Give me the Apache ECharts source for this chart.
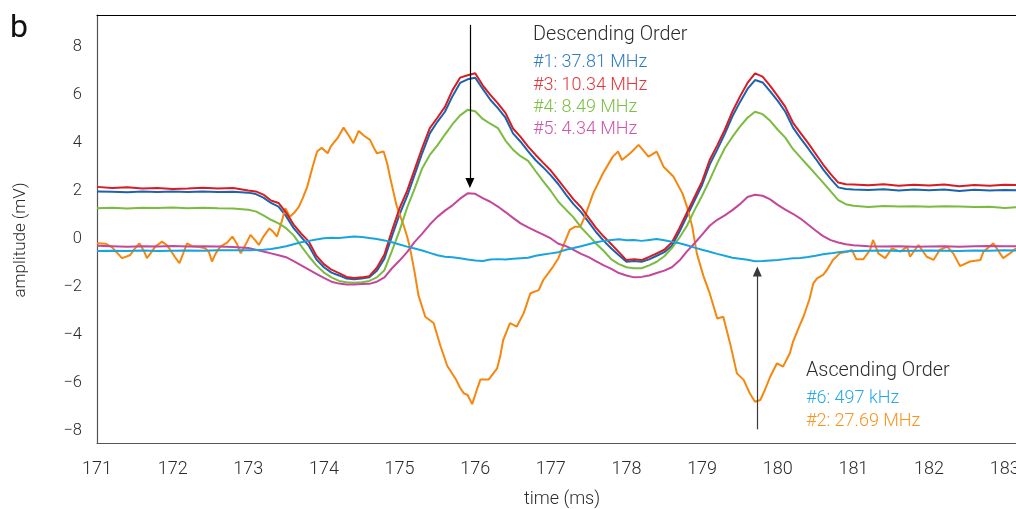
<!DOCTYPE html>
<html>
<head>
<meta charset="utf-8">
<script src="https://cdn.jsdelivr.net/npm/echarts@6/dist/echarts.min.js"></script>
<style>
html,body{margin:0;padding:0;background:#fff;}
#chart{width:1016px;height:509px;}
</style>
</head>
<body>
<div id="chart"></div>
<script>
// Sample times (ms) shared by the smoother traces
const T = [171.0,171.2,171.4,171.6,171.8,172.0,172.2,172.4,172.6,172.8,173.0,
173.1,173.2,173.3,173.4,173.5,173.6,173.7,173.8,173.9,174.0,
174.1,174.2,174.3,174.4,174.5,174.6,174.7,174.8,174.9,175.0,
175.1,175.2,175.3,175.4,175.5,175.6,175.7,175.8,175.9,176.0,
176.1,176.2,176.3,176.4,176.5,176.6,176.7,176.8,176.9,177.0,
177.1,177.2,177.3,177.4,177.5,177.6,177.7,177.8,177.9,178.0,
178.1,178.2,178.3,178.4,178.5,178.6,178.7,178.8,178.9,179.0,
179.1,179.2,179.3,179.4,179.5,179.6,179.7,179.8,179.9,180.0,
180.1,180.2,180.3,180.4,180.5,180.6,180.7,180.8,180.9,181.0,
181.2,181.4,181.6,181.8,182.0,182.2,182.4,182.6,182.8,183.0,183.2];

// #1: 37.81 MHz (blue)
const S1 = [1.98,1.97,1.95,1.98,1.96,1.98,1.96,1.98,1.96,1.97,1.93,
1.87,1.72,1.50,1.35,0.95,0.45,0.08,-0.28,-0.85,-1.18,
-1.40,-1.52,-1.65,-1.68,-1.65,-1.60,-1.32,-0.82,0.12,1.02,
1.78,2.68,3.58,4.40,4.88,5.30,5.95,6.50,6.65,6.72,
6.25,5.80,5.45,5.05,4.40,4.05,3.65,3.28,2.98,2.65,
2.28,1.85,1.45,1.12,0.70,0.28,-0.08,-0.40,-0.68,-0.95,
-0.92,-0.95,-0.85,-0.70,-0.55,-0.28,0.30,0.95,1.60,2.25,
3.10,3.72,4.38,5.10,5.70,6.25,6.62,6.52,6.15,5.75,
5.30,4.65,4.20,3.78,3.35,2.90,2.50,2.15,2.08,2.06,
2.04,2.07,2.02,2.06,2.03,2.06,2.00,2.05,2.02,2.04,2.03];

// #3: 10.34 MHz (red)
const S3 = [2.17,2.12,2.15,2.10,2.12,2.08,2.10,2.13,2.10,2.12,2.02,
1.98,1.85,1.60,1.50,1.10,0.60,0.22,-0.10,-0.70,-1.05,
-1.28,-1.42,-1.58,-1.63,-1.60,-1.55,-1.20,-0.65,0.35,1.28,
2.00,2.90,3.80,4.62,5.05,5.50,6.20,6.72,6.82,6.90,
6.40,6.00,5.65,5.25,4.60,4.25,3.85,3.50,3.17,2.85,
2.45,2.05,1.65,1.32,0.88,0.45,0.10,-0.22,-0.55,-0.88,
-0.85,-0.88,-0.75,-0.60,-0.45,-0.15,0.45,1.10,1.75,2.40,
3.29,3.90,4.55,5.30,5.93,6.50,6.90,6.76,6.38,5.95,
5.50,4.85,4.42,4.00,3.55,3.10,2.70,2.35,2.28,2.27,
2.24,2.28,2.22,2.26,2.23,2.27,2.20,2.25,2.22,2.26,2.25];

// #4: 8.49 MHz (green)
const S4 = [1.28,1.30,1.27,1.30,1.29,1.31,1.28,1.30,1.28,1.27,1.22,
1.15,0.98,0.80,0.65,0.45,0.15,-0.30,-0.72,-1.10,-1.40,
-1.60,-1.75,-1.80,-1.82,-1.80,-1.75,-1.60,-1.30,-0.50,0.35,
1.30,2.10,2.95,3.50,3.90,4.35,4.78,5.15,5.38,5.32,
5.00,4.80,4.62,4.10,3.72,3.45,3.25,2.82,2.40,2.00,
1.55,1.22,0.90,0.48,0.15,-0.20,-0.50,-0.85,-1.05,-1.18,
-1.22,-1.22,-1.10,-0.95,-0.72,-0.38,0.05,0.55,1.20,1.80,
2.45,3.15,3.78,4.25,4.68,5.05,5.30,5.20,4.92,4.55,
4.22,3.75,3.40,3.05,2.70,2.35,1.98,1.62,1.45,1.38,
1.33,1.37,1.35,1.36,1.34,1.36,1.35,1.33,1.34,1.29,1.33];

// #5: 4.34 MHz (magenta)
const S5 = [-0.28,-0.30,-0.32,-0.30,-0.31,-0.29,-0.31,-0.30,-0.31,-0.33,-0.38,
-0.45,-0.52,-0.60,-0.68,-0.76,-0.92,-1.10,-1.28,-1.45,-1.62,
-1.78,-1.86,-1.90,-1.90,-1.88,-1.87,-1.78,-1.60,-1.22,-0.90,
-0.55,-0.12,0.22,0.60,0.92,1.18,1.40,1.68,1.90,1.88,
1.70,1.55,1.35,1.12,0.88,0.65,0.48,0.33,0.18,0.02,
-0.20,-0.30,-0.45,-0.62,-0.76,-0.93,-1.10,-1.25,-1.42,-1.52,
-1.60,-1.58,-1.52,-1.42,-1.32,-1.18,-0.90,-0.52,-0.18,0.18,
0.55,0.80,0.98,1.20,1.45,1.75,1.84,1.80,1.65,1.42,
1.22,1.05,0.85,0.60,0.35,0.12,-0.05,-0.15,-0.22,-0.26,
-0.30,-0.31,-0.30,-0.32,-0.31,-0.30,-0.32,-0.30,-0.29,-0.30,-0.31];

// #6: 497 kHz (light blue)
const S6 = [-0.50,-0.49,-0.50,-0.48,-0.50,-0.49,-0.48,-0.49,-0.47,-0.47,-0.47,
-0.46,-0.45,-0.42,-0.37,-0.30,-0.22,-0.14,-0.08,-0.02,0.03,
0.05,0.04,0.07,0.10,0.08,0.04,0.00,-0.06,-0.14,-0.23,
-0.32,-0.40,-0.48,-0.58,-0.68,-0.74,-0.76,-0.80,-0.86,-0.90,
-0.92,-0.86,-0.84,-0.86,-0.82,-0.80,-0.78,-0.70,-0.65,-0.60,
-0.55,-0.45,-0.38,-0.30,-0.22,-0.14,-0.08,-0.04,-0.01,-0.05,
-0.04,-0.08,-0.04,0.00,-0.05,-0.12,-0.18,-0.26,-0.36,-0.45,
-0.53,-0.62,-0.70,-0.78,-0.82,-0.87,-0.93,-0.92,-0.90,-0.88,
-0.84,-0.80,-0.79,-0.75,-0.70,-0.64,-0.60,-0.55,-0.52,-0.50,
-0.49,-0.48,-0.50,-0.49,-0.48,-0.49,-0.50,-0.48,-0.49,-0.47,-0.48];

// #2: 27.69 MHz (orange), its own sample times
const T2 = [171.00,171.12,171.20,171.33,171.40,171.44,171.50,171.56,171.62,171.66,171.72,171.77,171.86,171.92,171.97,172.03,172.09,172.14,172.19,172.26,172.33,172.43,172.48,172.52,172.57,172.63,172.72,172.79,172.85,172.90,172.97,173.03,173.09,173.14,173.20,173.28,173.33,173.38,173.44,173.49,173.55,173.61,173.67,173.72,173.78,173.85,173.91,173.97,174.05,174.09,174.14,174.18,174.26,174.33,174.39,174.46,174.53,174.61,174.66,174.70,174.79,174.84,174.88,174.96,175.05,175.10,175.14,175.20,175.25,175.34,175.45,175.54,175.63,175.74,175.80,175.85,175.90,175.96,176.02,176.07,176.18,176.29,176.33,176.37,176.46,176.55,176.64,176.73,176.84,176.90,177.03,177.10,177.16,177.25,177.32,177.39,177.45,177.56,177.69,177.82,177.89,177.94,178.05,178.16,178.22,178.29,178.40,178.49,178.62,178.74,178.80,178.87,178.93,179.02,179.10,179.20,179.28,179.37,179.46,179.55,179.63,179.70,179.77,179.83,179.90,179.99,180.07,180.16,180.20,180.29,180.34,180.42,180.47,180.52,180.60,180.65,180.73,180.82,180.91,180.98,181.04,181.13,181.22,181.26,181.33,181.42,181.51,181.62,181.71,181.75,181.86,181.97,182.06,182.14,182.24,182.32,182.41,182.54,182.68,182.72,182.85,182.98,183.07,183.15];
const S2 = [-0.18,-0.20,-0.35,-0.80,-0.72,-0.67,-0.40,-0.18,-0.50,-0.80,-0.55,-0.32,-0.11,-0.25,-0.46,-0.75,-1.01,-0.60,-0.18,-0.30,-0.32,-0.39,-0.55,-0.94,-0.60,-0.32,-0.15,0.10,-0.20,-0.60,-0.20,0.17,-0.05,-0.25,0.10,0.44,0.30,0.10,0.70,1.28,0.93,1.10,1.35,1.70,2.18,3.00,3.64,3.80,3.57,3.85,4.05,4.20,4.64,4.30,3.99,4.50,4.30,4.13,3.80,3.57,3.64,3.10,2.50,1.40,0.60,0.10,-0.40,-1.40,-2.35,-3.24,-3.50,-4.45,-5.28,-5.82,-6.20,-6.43,-6.50,-6.88,-6.30,-5.85,-5.85,-5.39,-4.90,-4.21,-3.51,-3.65,-3.10,-2.26,-2.13,-1.71,-1.15,-0.80,-0.32,0.375,0.51,0.51,0.93,1.90,2.74,3.43,3.64,3.29,3.57,3.92,3.70,3.43,3.64,3.01,2.60,1.90,1.35,0.51,-0.60,-1.57,-2.26,-3.31,-3.24,-4.35,-5.60,-5.87,-6.43,-6.78,-6.71,-6.29,-5.74,-5.18,-5.32,-4.76,-4.30,-3.60,-3.24,-2.50,-1.85,-1.64,-1.50,-1.29,-0.875,-0.60,-0.53,-0.46,-0.85,-0.85,-0.46,-0.04,-0.60,-0.80,-0.39,-0.53,-0.32,-0.74,-0.25,-0.74,-0.875,-0.46,-0.32,-0.60,-1.13,-0.94,-0.875,-0.53,-0.18,-0.80,-0.60,-0.39];

// Tick labels
const X_TICKS = [171,172,173,174,175,176,177,178,179,180,181,182,183];
const Y_TICKS = [-8,-6,-4,-2,0,2,4,6,8];

// Arrow annotations: [time, from amplitude, to amplitude]
const ARROW_DOWN = [175.93, 8.92, 2.33];
const ARROW_UP = [179.73, -7.93, -1.36];

// Annotation texts
const DESC_TITLE = 'Descending Order';
const DESC_LABELS = ['#1: 37.81 MHz', '#3: 10.34 MHz', '#4: 8.49 MHz', '#5: 4.34 MHz'];
const ASC_TITLE = 'Ascending Order';
const ASC_LABELS = ['#6: 497 kHz', '#2: 27.69 MHz'];

const LINE_COL = {s1:'#1b63ae', s2:'#f5870f', s3:'#d71d24', s4:'#7bbb3f', s5:'#c4479c', s6:'#18a4e0'};
const TEXT_COL = {s1:'#2f7cc4', s2:'#f7941d', s3:'#e2363c', s4:'#7ac143', s5:'#d056a8', s6:'#2aa9e6'};

const FONT = 'Roboto, "Noto Sans", sans-serif';
const pairs = (t, v) => t.map((x, i) => [x, v[i]]);

function lineSeries(name, t, v, color, extra) {
  return Object.assign({
    name: name, type: 'line', data: pairs(t, v), showSymbol: false, symbol: 'none',
    lineStyle: {color: color, width: 2}, itemStyle: {color: color},
    silent: true, animation: false, z: 2
  }, extra || {});
}

const chart = echarts.init(document.getElementById('chart'), null, {renderer: 'canvas'});
const minus = v => String(v).replace('-', '\u2212');

const option = {
  animation: false,
  backgroundColor: '#ffffff',
  grid: {left: 97, top: 15, right: 0, bottom: 66, containLabel: false, outerBoundsMode: 'none'},
  xAxis: [{
    type: 'value', min: 171, max: 183.15, position: 'bottom',
    axisLine: {show: true, onZero: false, lineStyle: {color: '#555555', width: 1.2}},
    axisTick: {show: false},
    splitLine: {show: false},
    axisLabel: {customValues: X_TICKS, margin: 17, color: '#2b2b2b', fontSize: 18, fontFamily: FONT, fontWeight: 300,
      hideOverlap: false, formatter: v => String(Math.round(v))}
  }, {
    type: 'value', min: 171, max: 183.15, position: 'top',
    axisLine: {show: true, onZero: false, lineStyle: {color: '#000000', width: 1.2}},
    axisTick: {show: false}, axisLabel: {show: false}, splitLine: {show: false}
  }],
  yAxis: {
    type: 'value', min: -8.5, max: 9.33,
    axisLine: {show: true, onZero: false, lineStyle: {color: '#555555', width: 1.2}},
    axisTick: {show: false},
    splitLine: {show: false},
    axisLabel: {customValues: Y_TICKS, margin: 15, color: '#2b2b2b', fontSize: 16.5, fontFamily: FONT, fontWeight: 300,
      formatter: v => minus(Math.round(v))}
  },
  series: [
    lineSeries('#1: 37.81 MHz', T, S1, LINE_COL.s1),
    lineSeries('#2: 27.69 MHz', T2, S2, LINE_COL.s2),
    lineSeries('#3: 10.34 MHz', T, S3, LINE_COL.s3),
    lineSeries('#4: 8.49 MHz', T, S4, LINE_COL.s4),
    lineSeries('#5: 4.34 MHz', T, S5, LINE_COL.s5),
    lineSeries('#6: 497 kHz', T, S6, LINE_COL.s6, {
      markLine: {
        silent: true, animation: false,
        symbol: ['none', 'triangle'], symbolSize: [9, 10],
        label: {show: false},
        emphasis: {disabled: true},
        data: [
          [{coord: [ARROW_DOWN[0], ARROW_DOWN[1]], lineStyle: {color: '#000000', width: 1.2, type: 'solid'}, itemStyle: {color: '#000000'}},
           {coord: [ARROW_DOWN[0], ARROW_DOWN[2]]}],
          [{coord: [ARROW_UP[0], ARROW_UP[1]], lineStyle: {color: '#3a3a3a', width: 1.2, type: 'solid'}, itemStyle: {color: '#111111'}},
           {coord: [ARROW_UP[0], ARROW_UP[2]]}]
        ]
      }
    })
  ],
  graphic: [
    {type: 'text', x: 10, y: 29, style: {text: 'b', font: '400 32px ' + FONT, fill: '#111', verticalAlign: 'middle', align: 'left'}},
    {type: 'text', x: 21, y: 240, rotation: Math.PI / 2,
      style: {text: 'amplitude (mV)', font: '300 17px ' + FONT, fill: '#2b2b2b', align: 'center', verticalAlign: 'middle'}},
    {type: 'text', x: 562, y: 499,
      style: {text: 'time (ms)', font: '300 18px ' + FONT, fill: '#2b2b2b', align: 'center', verticalAlign: 'middle'}},
    {type: 'text', x: 533, y: 35, style: {text: DESC_TITLE, font: '300 19.8px ' + FONT, fill: '#2b2b2b', verticalAlign: 'middle'}},
    {type: 'text', x: 533, y: 62.5, style: {text: DESC_LABELS[0], font: '300 18px ' + FONT, fill: TEXT_COL.s1, verticalAlign: 'middle'}},
    {type: 'text', x: 533, y: 85.5, style: {text: DESC_LABELS[1], font: '300 18px ' + FONT, fill: TEXT_COL.s3, verticalAlign: 'middle'}},
    {type: 'text', x: 533, y: 107, style: {text: DESC_LABELS[2], font: '300 18px ' + FONT, fill: TEXT_COL.s4, verticalAlign: 'middle'}},
    {type: 'text', x: 533, y: 129.5, style: {text: DESC_LABELS[3], font: '300 18px ' + FONT, fill: TEXT_COL.s5, verticalAlign: 'middle'}},
    {type: 'text', x: 806, y: 371.5, style: {text: ASC_TITLE, font: '300 19.8px ' + FONT, fill: '#2b2b2b', verticalAlign: 'middle'}},
    {type: 'text', x: 806, y: 398, style: {text: ASC_LABELS[0], font: '300 18px ' + FONT, fill: TEXT_COL.s6, verticalAlign: 'middle'}},
    {type: 'text', x: 806, y: 421.5, style: {text: ASC_LABELS[1], font: '300 18px ' + FONT, fill: TEXT_COL.s2, verticalAlign: 'middle'}}
  ]
};
chart.setOption(option);
</script>
</body>
</html>
